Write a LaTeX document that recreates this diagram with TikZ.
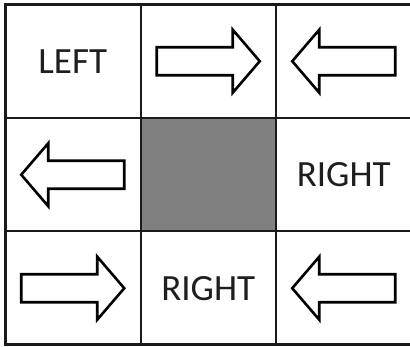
\documentclass[tikz,border=0pt]{standalone}
\usepackage{fontspec}
\setmainfont{Carlito}
\usetikzlibrary{positioning}
\definecolor{GridLine}{HTML}{1A1A1A}
\definecolor{MidGray}{HTML}{808080}
\definecolor{DarkText}{HTML}{1E1E1E}
\tikzset{
  cell/.style={draw=GridLine, line width=2pt, minimum width=135.5pt, minimum height=113.5pt, inner sep=0pt, outer sep=0pt, font=\fontsize{37}{40}\selectfont, text=DarkText},
  frame/.style={draw=GridLine, line width=3pt},
  blockarr/.pic={\draw[line width=2.6pt, draw=black, fill=white, line join=miter] (-51.5pt,-14pt) -- (24.5pt,-14pt) -- (24.5pt,-31.5pt) -- (51.5pt,0pt) -- (24.5pt,31.5pt) -- (24.5pt,14pt) -- (-51.5pt,14pt) -- cycle;}
}
\begin{document}
\begin{tikzpicture}[x=1pt,y=1pt]
\useasboundingbox (0,0) rectangle (410,347);
% top row
\node[cell] (c11) at (72.75,285.75) {LEFT};
\node[cell, right=0pt of c11] (c12) {};
\node[cell, right=0pt of c12] (c13) {};
% middle row
\node[cell, below=0pt of c11] (c21) {};
\node[cell, fill=MidGray, right=0pt of c21] (c22) {};
\node[cell, right=0pt of c22] (c23) {RIGHT};
% bottom row
\node[cell, below=0pt of c21] (c31) {};
\node[cell, right=0pt of c31] (c32) {RIGHT};
\node[cell, right=0pt of c32] (c33) {};
\draw[frame] (c11.north west) rectangle (c33.south east);
% arrows
\pic at (c12) {blockarr};
\pic[xscale=-1] at (c13) {blockarr};
\pic[xscale=-1] at (c21) {blockarr};
\pic at (c31) {blockarr};
\pic[xscale=-1] at (c33) {blockarr};
\end{tikzpicture}
\end{document}
